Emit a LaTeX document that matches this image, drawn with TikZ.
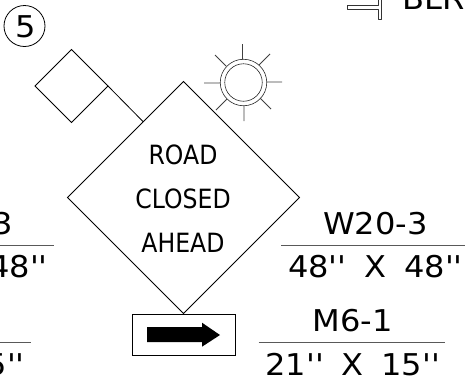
\documentclass[tikz,border=0pt]{standalone}
\usepackage{fontspec}
\newfontfamily\dvw[FakeStretch=1.07,WordSpace=1.75]{DejaVu Sans}
\newfontfamily\dvn[FakeStretch=0.89]{DejaVu Sans}
\usetikzlibrary{shapes.geometric}
\tikzset{
  ln/.style={draw=black,line width=0.8pt},
  thin ln/.style={draw=black!85,line width=0.6pt},
  sign/.style={ln,shape=diamond,aspect=1,inner sep=0pt,outer sep=0pt},
  ray/.style={draw=black!75,line width=0.8pt},
  lbl/.style={font=\fontsize{30}{30}\selectfont\dvw,anchor=base,inner sep=0pt,text=black},
  msg/.style={font=\fontsize{26.5}{26.5}\selectfont\dvn,anchor=base,inner sep=0pt,text=black},
  rule/.style={draw=black!65,line width=1pt},
}
\begin{document}
\begin{tikzpicture}[x=1pt,y=-1pt]
\useasboundingbox (0,0) rectangle (465,381);
\clip (0,0) rectangle (465,381);
% number
\node[ln,circle,minimum size=41pt,inner sep=0pt] (num) at (24.5,26) {};
\node[lbl] (numt) at (25.5,37) {5};
% signs
\node[sign,minimum size=232pt] (main) at (183.5,197.5) {};
\node[sign,minimum size=73pt] (small) at (71.5,86) {};
\draw[ln] (small.east) -- (main.118);
% sun
\node[thin ln,circle,minimum size=46.5pt,inner sep=0pt] (sun) at (243.5,82.5) {};
\node[thin ln,circle,minimum size=37.5pt,inner sep=0pt] (suni) at (243.5,82.5) {};
\draw[ray] (242.5,44)--(242.5,59.5) (259,65)--(270,54) (267,82)--(282,82) (260,98)--(271,109)
  (244,106)--(244,121) (204,83)--(220,83) (215,55)--(226,66) (216,110)--(227,99);
% symbol
\draw[draw=black!80,line width=0.7pt,line join=round] (347,5)--(378,5)--(378,-1)--(381,-1)--(381,19)--(378,19)--(378,9)--(347,9)--cycle;
\node[lbl,anchor=base west] (blr) at (402,9) {BLR};
% text on main sign
\node[msg] (t1) at (183,164.5) {ROAD};
\node[msg] (t2) at (183,208) {CLOSED};
\node[msg] (t3) at (183,252.5) {AHEAD};
% plate
\node[ln,minimum width=103pt,minimum height=41pt,inner sep=0pt,outer sep=0pt] (plate) at (184,334.5) {};
\fill[black] (147,327)--(202,327)--(202,322.7)--(220,335)--(202,346.7)--(202,342)--(147,342)--cycle;
% labels
\node[lbl] (a1) at (375.5,234.3) {W20-3};
\node[lbl] (a2) at (375.5,277.7) {48'' X 48''};
\node[lbl] (b1) at (352.7,331.7) {M6-1};
\node[lbl] (b2) at (352.7,375) {21'' X 15''};
\node[lbl,anchor=base east] (c1) at (13.5,234.3) {3};
\node[lbl,anchor=base east] (c2) at (48,277.7) {48''};
\node[lbl,anchor=base east] (d2) at (25,375) {5''};
\draw[rule] (281,245)--(465,245);
\draw[rule] (258.5,342)--(445,342);
\draw[rule] (0,245)--(54,245);
\draw[rule] (0,342)--(31,342);
\end{tikzpicture}
\end{document}
